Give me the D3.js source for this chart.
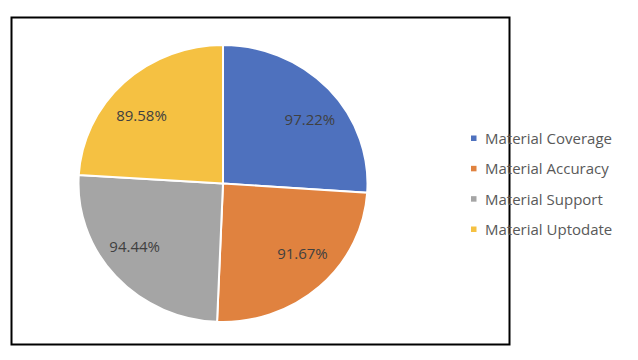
<!DOCTYPE html>
<html><head><meta charset="utf-8">
<script src="https://cdn.jsdelivr.net/npm/d3@7"></script>
<style>html,body{margin:0;padding:0;background:#fff;}svg{display:block;}</style>
</head><body>
<svg id="c" width="638" height="360"></svg>
<script>
const categories = ["Material Coverage","Material Accuracy","Material Support","Material Uptodate"];
const values = [97.22, 91.67, 94.44, 89.58];
const labels = ["97.22%","91.67%","94.44%","89.58%"];
const colors = ["#4e71be","#e0823f","#a5a5a5","#f5c142"];

const svg = d3.select("#c");
svg.append("rect").attr("x",11.5).attr("y",17.5).attr("width",498).attr("height",327)
  .attr("fill","#fff").attr("stroke","#000").attr("stroke-width",2);

const cx = 223, cy = 183.5, R = 144.5, sy = 0.958;
const pie = d3.pie().sort(null).value(d=>d);
const arcs = pie(values);
const arc = d3.arc().innerRadius(0).outerRadius(R);
const LR = 119, lsy = 0.79;
const labelArc = d3.arc().innerRadius(LR).outerRadius(LR);

const g = svg.append("g").attr("transform",`translate(${cx},${cy}) scale(1,${sy})`);
g.selectAll("path").data(arcs).join("path")
  .attr("d",arc).attr("fill",(d,i)=>colors[i])
  .attr("stroke","#fff").attr("stroke-width",2).attr("stroke-linejoin","round");

const lg = svg.append("g").attr("transform",`translate(${cx},${cy})`);
lg.selectAll("text").data(arcs).join("text")
  .attr("x",d=>labelArc.centroid(d)[0])
  .attr("y",d=>labelArc.centroid(d)[1]*lsy)
  .attr("text-anchor","middle").attr("dominant-baseline","central")
  .attr("font-family","Open Sans, sans-serif").attr("font-size",15)
  .attr("fill","#404040").text((d,i)=>labels[i]);

const leg = svg.append("g");
const ly = d3.scalePoint().domain(categories).range([138,229]);
categories.forEach((c,i)=>{
  leg.append("rect").attr("x",471).attr("y",ly(c)-2.5).attr("width",5.5).attr("height",5.5).attr("fill",colors[i]);
  leg.append("text").attr("x",485).attr("y",ly(c)).attr("dominant-baseline","central")
    .attr("font-family","Open Sans, sans-serif").attr("font-size",15).attr("fill","#595959").text(c);
});
</script>
</body></html>
